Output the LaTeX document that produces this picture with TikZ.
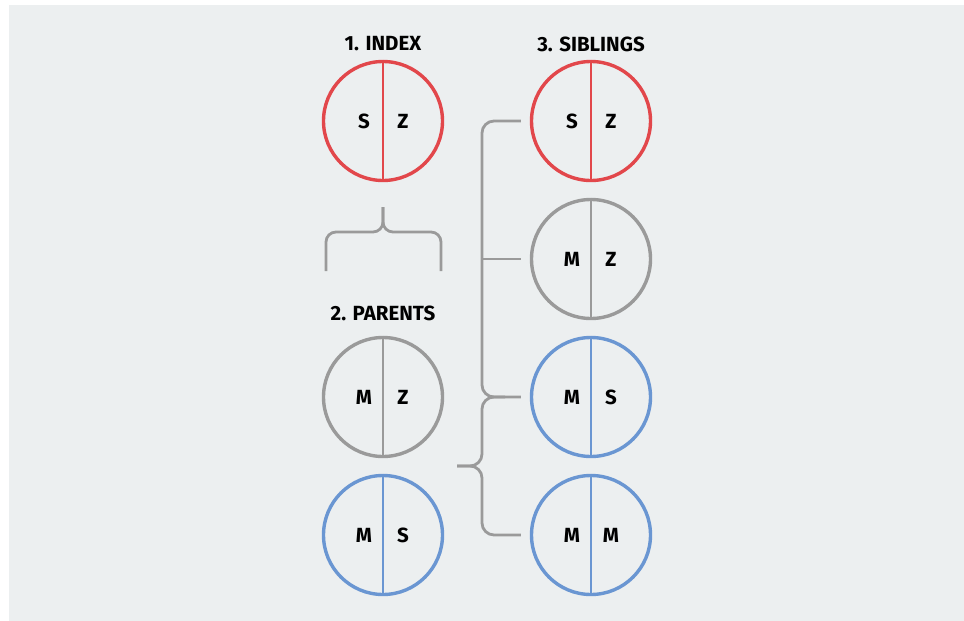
\documentclass[tikz,border=0pt]{standalone}
\usepackage{fontspec}
\setmainfont{Fira Sans}
\definecolor{bgc}{HTML}{ECEFF0}
\definecolor{redc}{HTML}{E2474B}
\definecolor{grayc}{HTML}{9A9A9A}
\definecolor{bluec}{HTML}{6A96D2}
\tikzset{
  pers/.style={circle, draw=#1, line width=3.4pt, minimum size=119pt, inner sep=0pt},
  divider/.style={draw=#1, line width=2.4pt},
  letter/.style={font=\fontsize{20.5}{20.5}\selectfont\bfseries, text=black, inner sep=0pt},
  title/.style={font=\fontsize{20.5}{20.5}\selectfont\bfseries, text=black, inner sep=0pt},
  conn/.style={draw=grayc, line width=2.8pt, rounded corners=12pt},
}
\begin{document}
\begin{tikzpicture}[x=1pt,y=-1pt]
\useasboundingbox (0,0) rectangle (964,621);
\fill[bgc] (9,5) rectangle (964,621);

% titles
\node[title] (t1) at (383,44) {1. INDEX};
\node[title] (t3) at (591,44) {3. SIBLINGS};
\node[title] (t2) at (383,313) {2. PARENTS};

% circles
\newcommand{\person}[6]{%
  \node[pers=#4] (#1) at (#2,#3) {};
  \draw[divider=#4] (#1.north) -- (#1.south);
  \node[letter] (#1l) at ([xshift=-19pt]#1.center) {#5};
  \node[letter] (#1r) at ([xshift=20pt]#1.center) {#6};
}
\person{idx}{383}{121}{redc}{S}{Z}
\person{pa}{383}{397}{grayc}{M}{Z}
\person{pb}{383}{535}{bluec}{M}{S}
\person{sa}{591}{121}{redc}{S}{Z}
\person{sb}{591}{259}{grayc}{M}{Z}
\person{sc}{591}{397}{bluec}{M}{S}
\person{sd}{591}{535}{bluec}{M}{M}

% brace under index
\coordinate (btip) at ([yshift=-25pt]idx.south);
\coordinate (bl) at (326,271);
\coordinate (br) at (441,271);
\draw[conn, rounded corners=10pt] (bl) -- (326,232) -- (383,232) -- (btip);
\draw[conn, rounded corners=10pt] (br) -- (441,232) -- (383,232) -- (btip);

% sibling connectors
\coordinate (ea) at ([xshift=-9pt]sa.west);
\coordinate (eb) at ([xshift=-9pt]sb.west);
\coordinate (ec) at ([xshift=-9pt]sc.west);
\coordinate (ed) at ([xshift=-9pt]sd.west);
\coordinate (tip) at (457,466);
\draw[conn] (ea) -- (482,121) -- (482,397) -- (ec);
\draw[conn, rounded corners=0pt] (482,259) -- (eb);
\draw[conn] (505,397) -- (482,397) -- (482,466) -- (tip);
\draw[conn] (tip) -- (482,466) -- (482,535) -- (ed);
\end{tikzpicture}
\end{document}
